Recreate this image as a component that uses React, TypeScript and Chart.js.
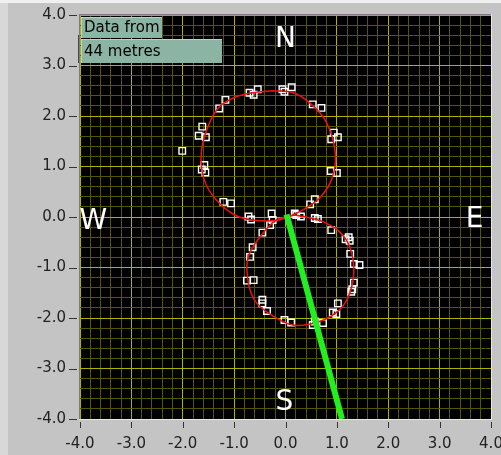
import React, { useEffect, useRef } from "react";
import { Chart, registerables } from "chart.js";

Chart.register(...registerables);

// ---- data ----
const AXIS_MIN = -4;
const AXIS_MAX = 4;
const MAJOR_TICKS = [-4, -3, -2, -1, 0, 1, 2, 3, 4];
const MINOR_DIVISIONS = 5;

const TOP_LOOP: [number, number][] = [
  [-0.25, 2.5], [0.15, 2.46], [0.47, 2.26], [0.79, 1.89], [0.97, 1.26],
  [0.9, 0.75], [0.66, 0.37], [0.34, 0.14], [0.05, 0.0], [-0.19, -0.07],
  [-0.64, -0.06], [-0.99, 0.04], [-1.35, 0.34], [-1.58, 0.73], [-1.64, 1.26],
  [-1.51, 1.79], [-1.29, 2.18], [-0.96, 2.38], [-0.64, 2.46], [-0.25, 2.5],
];

const BOTTOM_LOOP: [number, number][] = [
  [0.18, 0.04], [0.53, -0.03], [0.79, -0.12], [1.05, -0.29], [1.25, -0.59],
  [1.33, -1.05], [1.25, -1.51], [1.05, -1.84], [0.66, -2.07], [0.14, -2.14],
  [-0.38, -1.87], [-0.64, -1.58], [-0.75, -1.08], [-0.7, -0.72], [-0.44, -0.32],
  [-0.18, -0.06], [0.18, 0.04],
];

const MARKERS: [number, number][] = [
  [-2.01, 1.31], [-1.62, 1.79], [-1.69, 1.61], [-1.55, 1.58], [-1.29, 2.15],
  [-1.17, 2.32], [-0.7, 2.46], [-0.62, 2.42], [-0.54, 2.53], [-0.06, 2.53],
  [-0.02, 2.48], [0.12, 2.57], [0.53, 2.23], [0.7, 2.16], [0.94, 1.67],
  [0.89, 1.54], [1.02, 1.58], [0.88, 0.91], [1.0, 0.87], [0.57, 0.35],
  [0.48, 0.25], [-1.58, 1.03], [-1.63, 0.94], [-1.56, 0.88], [-1.21, 0.3],
  [-1.06, 0.27], [-0.72, 0.01], [-0.67, -0.05],
  [-0.27, 0.07], [-0.25, -0.06], [-0.3, -0.16], [-0.45, -0.31], [0.18, 0.07],
  [0.21, 0.04], [0.3, 0.01], [0.57, -0.02], [0.63, -0.04], [0.89, -0.26],
  [1.23, -0.4], [1.17, -0.44], [-0.64, -0.6], [-0.69, -0.79], [-0.75, -1.26],
  [-0.62, -1.25], [-0.45, -1.64], [-0.45, -1.71], [-0.36, -1.86], [-0.02, -2.04],
  [0.11, -2.09], [0.57, -2.07], [0.73, -2.1], [0.53, -2.14], [0.99, -1.92],
  [0.92, -1.89], [1.02, -1.71], [1.28, -1.48], [1.33, -1.3], [1.3, -1.43],
  [1.33, -0.93], [1.44, -0.95], [1.26, -0.73], [1.25, -0.47],
];

const HEADING_LINE: [number, number][] = [
  [0.02, 0.05],
  [1.1, -4.0],
];

const COMPASS_LABELS = [
  { text: "N", x: 0.0, y: 3.56 },
  { text: "S", x: -0.02, y: -3.62 },
  { text: "E", x: 3.68, y: 0.0 },
  { text: "W", x: -3.74, y: -0.03 },
];

const LEGEND_LINES = ["Data from", "44 metres"];

// ---- styles ----
const FONT = "DejaVu Sans";
const PANEL = "#c4c4c4";
const MAJOR_GRID = "#b0b000";
const MINOR_GRID = "#565600";
const LEGEND_FILL = "#8cb4a4";

const gridValues: number[] = [];
for (let i = 0; i < MAJOR_TICKS.length - 1; i++) {
  for (let k = 0; k < MINOR_DIVISIONS; k++) {
    const v = MAJOR_TICKS[i] + ((MAJOR_TICKS[i + 1] - MAJOR_TICKS[i]) * k) / MINOR_DIVISIONS;
    gridValues.push(Math.round(v * 1000) / 1000);
  }
}
gridValues.push(MAJOR_TICKS[MAJOR_TICKS.length - 1]);

const isMajor = (v: number) => MAJOR_TICKS.some((m) => Math.abs(m - v) < 1e-6);
const toXY = (arr: [number, number][]) => arr.map(([x, y]) => ({ x, y }));
const tickLabel = (v: any) => (isMajor(Number(v)) ? Number(v).toFixed(1) : "");

const panelPlugin = {
  id: "panel",
  beforeDraw(chart: any) {
    const { ctx, width, height, chartArea } = chart;
    ctx.save();
    ctx.fillStyle = PANEL;
    ctx.fillRect(0, 0, width, height);
    ctx.fillStyle = "#d8d8d8";
    ctx.fillRect(0, 0, 8, height);
    ctx.fillStyle = "#f0f0f0";
    ctx.fillRect(0, 0, width, 3);
    ctx.fillStyle = "#000000";
    ctx.fillRect(chartArea.left, chartArea.top, chartArea.right - chartArea.left, chartArea.bottom - chartArea.top);
    ctx.restore();
  },
  afterDatasetsDraw(chart: any) {
    const { ctx, chartArea, scales } = chart;
    const xs = scales.x;
    const ys = scales.y;
    ctx.save();
    // compass labels
    ctx.fillStyle = "#ffffff";
    ctx.font = `28px ${FONT}`;
    ctx.textAlign = "center";
    ctx.textBaseline = "alphabetic";
    COMPASS_LABELS.forEach((l) => {
      ctx.fillText(l.text, xs.getPixelForValue(l.x), ys.getPixelForValue(l.y) + 10);
    });
    // legend boxes
    const L = chartArea.left;
    const T = chartArea.top;
    ctx.fillStyle = "#4a4a4a";
    ctx.fillRect(L - 2, T + 20, 2, 28);
    const boxes = [
      { x: L + 1, y: T + 2, w: 81, h: 21 },
      { x: L + 1, y: T + 24, w: 141, h: 24 },
    ];
    ctx.font = `15px ${FONT}`;
    ctx.textAlign = "left";
    ctx.textBaseline = "middle";
    boxes.forEach((b, i) => {
      ctx.fillStyle = LEGEND_FILL;
      ctx.fillRect(b.x, b.y, b.w, b.h);
      ctx.fillStyle = "#b9d3c8";
      ctx.fillRect(b.x, b.y, b.w, 1);
      ctx.fillRect(b.x, b.y, 1, b.h);
      ctx.fillStyle = "#000000";
      ctx.fillText(LEGEND_LINES[i], b.x + 3, b.y + b.h / 2 + 1);
    });
    ctx.restore();
  },
  afterDraw(chart: any) {
    const { ctx, chartArea, scales } = chart;
    const xs = scales.x;
    const ys = scales.y;
    ctx.save();
    // frame
    ctx.fillStyle = "#7c7c7c";
    ctx.fillRect(chartArea.left - 1, chartArea.top - 1, chartArea.right - chartArea.left + 2, 1);
    ctx.fillRect(chartArea.left - 1, chartArea.top - 1, 1, chartArea.bottom - chartArea.top + 2);
    ctx.fillStyle = "#e6e6e6";
    ctx.fillRect(chartArea.left - 1, chartArea.bottom, chartArea.right - chartArea.left + 2, 1);
    ctx.fillRect(chartArea.right, chartArea.top - 1, 1, chartArea.bottom - chartArea.top + 2);
    // tick marks
    ctx.strokeStyle = "#333333";
    ctx.lineWidth = 1;
    ctx.beginPath();
    MAJOR_TICKS.forEach((v) => {
      const py = Math.round(ys.getPixelForValue(v)) + 0.5;
      ctx.moveTo(chartArea.left - 11, py);
      ctx.lineTo(chartArea.left - 3, py);
      const px = Math.round(xs.getPixelForValue(v)) + 0.5;
      ctx.moveTo(px, chartArea.bottom + 3);
      ctx.lineTo(px, chartArea.bottom + 9);
    });
    ctx.stroke();
    ctx.restore();
  },
};

const axisCommon = (extra: any) => ({
  type: "linear",
  min: AXIS_MIN,
  max: AXIS_MAX,
  afterBuildTicks: (scale: any) => {
    scale.ticks = gridValues.map((v) => ({ value: v }));
  },
  grid: {
    drawTicks: false,
    lineWidth: 1,
    color: (c: any) => (c.tick && isMajor(c.tick.value) ? MAJOR_GRID : MINOR_GRID),
  },
  border: { display: false },
  ...extra,
});

export default function App() {
  const ref = useRef<HTMLCanvasElement | null>(null);
  useEffect(() => {
    document.body.style.margin = "0";
    const canvas = ref.current!;
    const chart = new Chart(canvas, {
      type: "scatter",
      data: {
        datasets: [
          {
            data: toXY(HEADING_LINE),
            showLine: true,
            borderColor: "#22ee22",
            borderWidth: 6,
            pointRadius: 0,
          },
          {
            data: toXY(TOP_LOOP),
            showLine: true,
            borderColor: "#ee1111",
            borderWidth: 1.5,
            tension: 0.3,
            pointRadius: 0,
          },
          {
            data: toXY(BOTTOM_LOOP),
            showLine: true,
            borderColor: "#ee1111",
            borderWidth: 1.5,
            tension: 0.3,
            pointRadius: 0,
          },
          {
            data: toXY(MARKERS),
            showLine: false,
            pointStyle: "rect",
            pointRadius: 4.6,
            pointBorderWidth: 1.4,
            pointBorderColor: "#ffffff",
            pointBackgroundColor: "rgba(0,0,0,0)",
          },
        ],
      },
      options: {
        animation: false,
        responsive: false,
        devicePixelRatio: 1,
        events: [],
        layout: { padding: { top: 15, right: 10, left: 0, bottom: 0 } },
        plugins: { legend: { display: false }, tooltip: { enabled: false } },
        scales: {
          x: axisCommon({
            position: "bottom",
            ticks: {
              autoSkip: false,
              maxRotation: 0,
              color: "#222222",
              padding: 16,
              font: { family: FONT, size: 15 },
              callback: tickLabel,
            },
            afterFit: (s: any) => {
              s.height = 36;
              s.paddingLeft = 0;
              s.paddingRight = 0;
            },
          }),
          y: axisCommon({
            position: "left",
            ticks: {
              autoSkip: false,
              color: "#222222",
              padding: 14,
              font: { family: FONT, size: 15 },
              callback: tickLabel,
            },
            afterFit: (s: any) => {
              s.width = 80;
              s.paddingTop = 0;
              s.paddingBottom = 0;
            },
          }),
        },
      } as any,
      plugins: [panelPlugin],
    });
    return () => chart.destroy();
  }, []);
  return (
    <canvas
      ref={ref}
      width={501}
      height={455}
      style={{ display: "block", width: 501, height: 455 }}
    />
  );
}
